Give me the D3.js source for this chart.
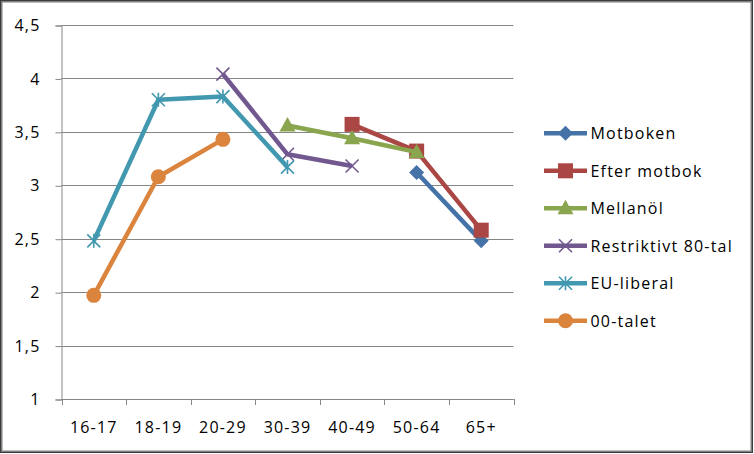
<!DOCTYPE html>
<html><head><meta charset="utf-8">
<script src="https://cdn.jsdelivr.net/npm/d3@7/dist/d3.min.js"></script>
<style>
html,body{margin:0;padding:0;background:#fff;}
svg text{font-family:"Open Sans",sans-serif;fill:#000;}
</style></head>
<body><svg id="c" width="754" height="454"></svg>
<script>
const categories = ["16-17","18-19","20-29","30-39","40-49","50-64","65+"];
const yTicks = [1,1.5,2,2.5,3,3.5,4,4.5];
const seriesNames = ["Motboken","Efter motbok","Mellanöl","Restriktivt 80-tal","EU-liberal","00-talet"];
const motboken     = [null,null,null,null,null,3.12,2.48];
const efterMotbok  = [null,null,null,null,3.57,3.32,2.58];
const mellanol     = [null,null,null,3.56,3.44,3.31,null];
const restriktivt  = [null,null,4.04,3.29,3.18,null,null];
const euLiberal    = [2.48,3.80,3.83,3.17,null,null,null];
const talet00      = [1.97,3.08,3.43,null,null,null,null];
const seriesValues = [motboken,efterMotbok,mellanol,restriktivt,euLiberal,talet00];
const colors = ["#4572A7","#AA4643","#89A54E","#71588F","#4198AF","#DB843D"];
const markers = ["diamond","square","triangle","x","star","circle"];

const svg = d3.select("#c");
// outer frame
svg.append("rect").attr("x",0).attr("y",0).attr("width",754).attr("height",454).attr("fill","#fff");
svg.append("rect").attr("x",1.5).attr("y",1.5).attr("width",750).attr("height",450)
  .attr("fill","none").attr("stroke","#7f7f7f").attr("stroke-width",2);
svg.append("rect").attr("x",0.5).attr("y",0.5).attr("width",752).attr("height",452)
  .attr("fill","none").attr("stroke","#3c3c3c").attr("stroke-width",1);

const L=61.5, R=513.5, T=25, B=399;
const x = d3.scaleBand().domain(categories).range([L,R]);
const y = d3.scaleLinear().domain([1,4.5]).range([B,T]);

// gridlines
svg.append("g").selectAll("line").data(yTicks).join("line")
  .attr("x1",L).attr("x2",R).attr("y1",d=>Math.round(y(d))+0.5).attr("y2",d=>Math.round(y(d))+0.5)
  .attr("stroke","#868686").attr("stroke-width",1);

// y axis
const yAxis = d3.axisLeft(y).tickValues(yTicks).tickSize(6).tickPadding(15)
  .tickFormat(d=>String(d).replace(".",","));
const gy = svg.append("g").attr("transform",`translate(${L},0.5)`).call(yAxis);
gy.select(".domain").attr("stroke","#868686");
gy.selectAll(".tick line").attr("stroke","#868686");
gy.selectAll("text").attr("font-size",16).attr("letter-spacing","1.2px")
  .attr("font-family","'Open Sans',sans-serif").attr("fill","#000");

// x axis
const xAxis = d3.axisBottom(x).tickSize(0).tickPadding(0);
const gx = svg.append("g").attr("transform",`translate(0,${B+0.5})`).call(xAxis);
gx.select(".domain").attr("stroke","#868686").attr("d",`M${L},0H${R}`);
gx.selectAll(".tick text").attr("font-size",16).attr("letter-spacing","1.2px")
  .attr("font-family","'Open Sans',sans-serif").attr("fill","#000").attr("y",33).attr("dy",0);
// boundary ticks
const bounds = categories.map(c=>x(c)).concat([x(categories[categories.length-1])+x.bandwidth()]);
svg.append("g").selectAll("line").data(bounds).join("line")
  .attr("x1",d=>Math.round(d)+0.5).attr("x2",d=>Math.round(d)+0.5).attr("y1",B).attr("y2",B+6)
  .attr("stroke","#868686");

function drawMarker(g, type, cx, cy, color){
  if(type==="diamond"){
    g.append("path").attr("d",`M${cx},${cy-7.5}L${cx+7.5},${cy}L${cx},${cy+7.5}L${cx-7.5},${cy}Z`).attr("fill",color);
  } else if(type==="square"){
    g.append("rect").attr("x",cx-7.5).attr("y",cy-7.5).attr("width",15).attr("height",15).attr("fill",color);
  } else if(type==="triangle"){
    g.append("path").attr("d",`M${cx},${cy-8.5}L${cx+8},${cy+6}L${cx-8},${cy+6}Z`).attr("fill",color);
  } else if(type==="circle"){
    g.append("circle").attr("cx",cx).attr("cy",cy).attr("r",7.5).attr("fill",color);
  } else if(type==="x"){
    const s=6.5;
    g.append("path").attr("d",`M${cx-s},${cy-s}L${cx+s},${cy+s}M${cx-s},${cy+s}L${cx+s},${cy-s}`)
      .attr("stroke",color).attr("stroke-width",1.6).attr("fill","none");
  } else if(type==="star"){
    const s=6.5;
    g.append("path").attr("d",`M${cx-s},${cy-s}L${cx+s},${cy+s}M${cx-s},${cy+s}L${cx+s},${cy-s}M${cx},${cy-s-0.5}L${cx},${cy+s+0.5}`)
      .attr("stroke",color).attr("stroke-width",1.6).attr("fill","none");
  }
}

const line = d3.line().defined(d=>d.v!=null).x(d=>x(d.c)+x.bandwidth()/2).y(d=>y(d.v));
seriesValues.forEach((vals,i)=>{
  const pts = vals.map((v,j)=>({c:categories[j],v}));
  const g = svg.append("g");
  g.append("path").datum(pts).attr("d",line).attr("fill","none")
    .attr("stroke",colors[i]).attr("stroke-width",4.5).attr("stroke-linejoin","round");
  pts.filter(p=>p.v!=null).forEach(p=>drawMarker(g,markers[i],x(p.c)+x.bandwidth()/2,y(p.v),colors[i]));
});

// legend
const leg = svg.append("g");
seriesNames.forEach((n,i)=>{
  const cy = 133.3 + i*37.5;
  leg.append("line").attr("x1",544).attr("x2",587).attr("y1",cy).attr("y2",cy)
    .attr("stroke",colors[i]).attr("stroke-width",4.5);
  drawMarker(leg,markers[i],565.5,cy,colors[i]);
  leg.append("text").attr("x",590.5).attr("y",cy+5.8).attr("font-size",16)
    .attr("letter-spacing","1.2px").text(n);
});
</script></body></html>
